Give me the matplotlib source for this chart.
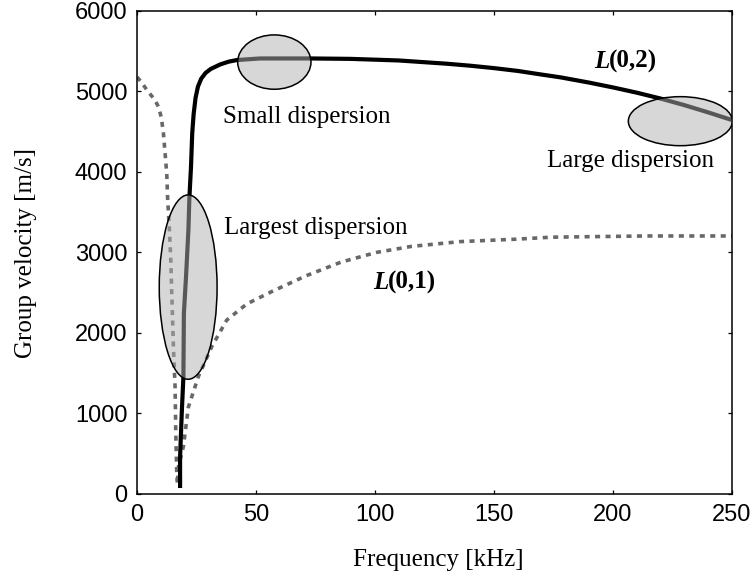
import numpy as np
import matplotlib
matplotlib.use("Agg")
import matplotlib.pyplot as plt
from matplotlib.patches import Ellipse

# ==============================================================================
# Datos (frecuencia en kHz, velocidad de grupo en m/s)

# Modo L(0,1) - linea punteada (rama izquierda baja y luego sube a la derecha)
f_L01 = [0, 2.0, 4.1, 6.0, 7.6, 9.0, 10.2, 11.1, 11.8, 12.5, 12.9, 13.6, 14.2,
         14.6, 15.3, 16.0, 16.3, 16.7, 17.0, 17.4, 19.5, 21.6, 25.8, 31.4,
         37.7, 46.1, 56.3, 71.0, 85.7, 100.5, 115.2, 135.8, 159.4, 174.1,
         213.9, 250]
v_L01 = [5180, 5110, 5020, 4950, 4890, 4810, 4680, 4480, 4230, 3980, 3650,
         3300, 2900, 2500, 1830, 1330, 750, 260, 120, 340, 590, 1080, 1460,
         1830, 2160, 2360, 2510, 2710, 2880, 3000, 3075, 3135, 3165, 3190,
         3205, 3205]

# Modo L(0,2) - linea continua
f_L02 = [18.1, 18.1, 18.8, 19.5, 19.7, 20.6, 21.6, 22.0, 22.7, 23.2, 23.8,
         24.6, 25.6, 27.0, 28.8, 31.0, 34.9, 38.5, 41.9, 51.7, 73.1, 89.5,
         100, 110, 120, 130, 140, 150, 160, 170, 178, 190, 200, 210, 220,
         230, 240, 250]
v_L02 = [100, 460, 1000, 1460, 2245, 2700, 3280, 3670, 4070, 4480, 4720,
         4920, 5060, 5160, 5230, 5280, 5335, 5370, 5390, 5410, 5410, 5405,
         5395, 5385, 5365, 5345, 5320, 5290, 5255, 5210, 5175, 5110, 5050,
         4985, 4912, 4830, 4740, 4645]

# Elipses de dispersion: centro (kHz, m/s), ancho (kHz), alto (m/s)
ell_centers = [(57.7, 5365), (228.3, 4631), (21.5, 2570)]
ell_widths = [30.8, 43.7, 24.3]
ell_heights = [675, 609, 2290]

# Textos
notes = ["Small dispersion", "Large dispersion", "Largest dispersion"]
note_pos = [(36.1, 4605), (172.3, 4066), (36.5, 3230)]
modes = ["(0,2)", "(0,1)"]
mode_pos = [(198.3, 5370), (105.5, 2630)]

xticks = [0, 50, 100, 150, 200, 250]
yticks = [0, 1000, 2000, 3000, 4000, 5000, 6000]

# ==============================================================================
serif = "Liberation Serif"
sans = "Liberation Sans"

fig = plt.figure(figsize=(7.54, 5.8), dpi=100, facecolor="white")
ax = fig.add_axes([0.1817, 0.1483, 0.7891, 0.8328])

ax.plot(f_L01, v_L01, c="#686868", lw=2.6, linestyle=(0, (1.4, 1.5)),
        dash_capstyle="butt", zorder=2)
ax.plot(f_L02, v_L02, c="black", lw=3.0, solid_joinstyle="round", zorder=3)

# Elipses semitransparentes encima de las curvas
for c, w, h in zip(ell_centers, ell_widths, ell_heights):
    e = Ellipse(c, w, h, facecolor="#b0b0b0", alpha=0.5, edgecolor="none", zorder=4)
    ax.add_patch(e)
    e2 = Ellipse(c, w, h, facecolor="none", edgecolor="black", lw=1.1, zorder=5)
    ax.add_patch(e2)

for t, (x, y) in zip(notes, note_pos):
    ax.text(x, y, t, fontsize=18, family=serif, ha="left", va="baseline")

# Etiquetas de modos: L en negrita cursiva y el resto en negrita
for t, (x, y) in zip(modes, mode_pos):
    ax.text(x, y, "L", fontsize=18, family=serif, weight="bold", style="italic",
            ha="right", va="center")
    ax.text(x, y, t, fontsize=18, family=serif, weight="bold",
            ha="left", va="center")

ax.set_xlim(0, 250)
ax.set_ylim(0, 6000)
ax.set_xticks(xticks)
ax.set_yticks(yticks)
ax.tick_params(direction="in", top=True, right=True, length=3.2, width=0.9,
               pad=7, labelsize=17)
for lab in ax.get_xticklabels() + ax.get_yticklabels():
    lab.set_family(sans)
for s in ax.spines.values():
    s.set_linewidth(1.1)

fig.text(26 / 754, 1 - 253 / 580, "Group velocity [m/s]", rotation=90,
         fontsize=18, family=serif, ha="center", va="center")
fig.text(438 / 754, 1 - 560 / 580, "Frequency [kHz]",
         fontsize=18, family=serif, ha="center", va="center")

fig.savefig("out.png", dpi=100)
